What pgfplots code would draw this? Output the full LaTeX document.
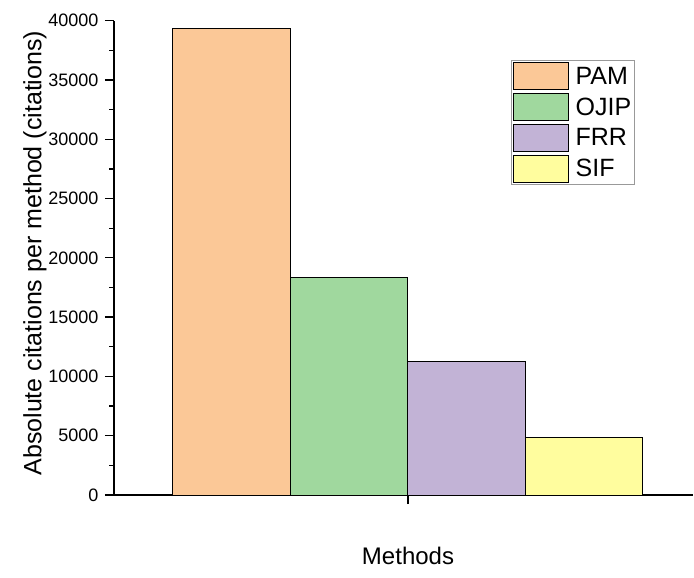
\documentclass[border=0pt]{standalone}
\usepackage{fontspec}
\setmainfont{Liberation Sans}
\usepackage{pgfplots}
\pgfplotsset{compat=1.18}
\definecolor{cPAM}{RGB}{251,200,151}
\definecolor{cOJIP}{RGB}{160,216,158}
\definecolor{cFRR}{RGB}{194,179,214}
\definecolor{cSIF}{RGB}{255,253,158}
\begin{document}
\begin{tikzpicture}
\begin{axis}[
  scale only axis, width=579pt, height=474.3pt,
  xmin=-2.502, xmax=2.426, ymin=0, ymax=40000,
  axis lines*=left,
  axis line style={line width=1.5pt},
  xtick={0}, xticklabels={},
  ytick={0,5000,...,40000}, minor y tick num=1,
  tick align=outside,
  major tick length=9pt, minor tick length=4.5pt,
  tick style={line width=1.3pt, black},
  yticklabel style={font=\fontsize{18}{21}\selectfont, xshift=-3pt},
  /pgf/number format/assume math mode=true,
  /pgf/number format/1000 sep={},
  scaled y ticks=false,
  ybar, bar width=117.5pt, bar shift=0pt,
  xlabel={Methods},
  ylabel={Absolute citations per method (citations)},
  xlabel style={font=\fontsize{24}{28}\selectfont, at={(rel axis cs:0.5078,0)}, anchor=center, yshift=-61pt},
  ylabel style={font=\fontsize{25}{29}\selectfont, at={(rel axis cs:0,0.51)}, anchor=center, yshift=79pt},
  legend style={at={(rel axis cs:0.6857,0.917)}, anchor=north west,
    draw=gray!80, line width=0.6pt, font=\fontsize{25}{28}\selectfont,
    inner xsep=2pt, inner ysep=2pt, row sep=3pt,
    nodes={inner sep=1.5pt},
    /tikz/every odd column/.append style={column sep=5pt}},
  legend cell align=left,
  legend image code/.code={\draw[#1, line width=0.8pt] (0pt,-13.5pt) rectangle (55pt,13.5pt);},
]
\addplot[fill=cPAM, draw=black, line width=1pt] coordinates {(-1.5,39350)};
\addplot[fill=cOJIP, draw=black, line width=1pt] coordinates {(-0.5,18320)};
\addplot[fill=cFRR, draw=black, line width=1pt] coordinates {(0.5,11270)};
\addplot[fill=cSIF, draw=black, line width=1pt] coordinates {(1.5,4830)};
\legend{PAM,OJIP,FRR,SIF}
\end{axis}
\pgfresetboundingbox
\path[use as bounding box] ([xshift=-114pt,yshift=-82pt]current axis.south west) rectangle ([xshift=1pt,yshift=20.7pt]current axis.north east);
\end{tikzpicture}
\end{document}
